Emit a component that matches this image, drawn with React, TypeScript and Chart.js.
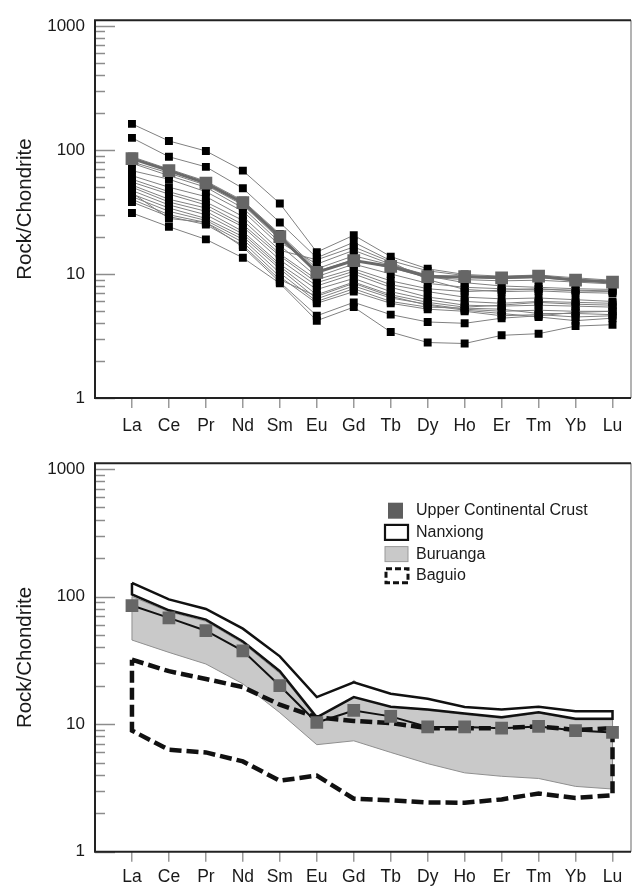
import React, { useEffect, useRef } from 'react';
import { Chart, registerables } from 'chart.js';

Chart.register(...registerables);

const FONT = "'Liberation Sans', Arial, Helvetica, sans-serif";

const elements = ['La', 'Ce', 'Pr', 'Nd', 'Sm', 'Eu', 'Gd', 'Tb', 'Dy', 'Ho', 'Er', 'Tm', 'Yb', 'Lu'];
const yTickValues = [1, 10, 100, 1000];
const yTitle = 'Rock/Chondrite';

// Upper continental crust (chondrite normalised)
const ucc = [85, 68, 54, 37.5, 20, 10.3, 12.8, 11.5, 9.5, 9.5, 9.3, 9.6, 8.9, 8.6];

// Nanxiong samples (top panel)
const sample01 = [162, 118, 98, 68, 37, 15.0, 20.5, 13.8, 11.0, 9.9, 9.6, 9.8, 9.3, 8.9];
const sample02 = [125, 88, 73, 49, 26, 13.5, 18.0, 12.8, 10.6, 9.7, 9.4, 9.5, 9.1, 8.7];
const sample03 = [88, 70, 56, 39, 21, 11.0, 14.0, 11.8, 9.8, 9.4, 9.2, 9.3, 8.9, 8.5];
const sample04 = [80, 65, 52, 36, 19, 10.5, 13.0, 11.2, 9.4, 9.0, 8.8, 8.9, 8.6, 8.3];
const sample05 = [78, 62, 50, 34, 18, 12.0, 15.5, 12.0, 9.6, 8.5, 8.0, 7.8, 7.6, 7.5];
const sample06 = [68, 58, 46, 32, 17, 9.5, 12.0, 10.0, 8.4, 7.8, 7.6, 7.5, 7.4, 7.3];
const sample07 = [62, 50, 42, 29, 15.5, 13.0, 16.5, 12.5, 9.0, 7.5, 7.2, 7.3, 7.1, 7.0];
const sample08 = [58, 46, 38, 27, 14.5, 9.0, 11.0, 8.8, 7.6, 7.2, 7.4, 7.6, 7.3, 7.2];
const sample09 = [55, 44, 36, 25, 14, 8.5, 10.5, 8.2, 7.2, 6.5, 6.3, 6.4, 6.2, 6.0];
const sample10 = [52, 40, 34, 24, 13, 8.0, 10.0, 7.8, 6.5, 6.0, 5.8, 6.0, 5.9, 5.8];
const sample11 = [50, 38, 32, 22, 12, 7.5, 9.2, 7.2, 6.2, 5.6, 5.5, 5.6, 5.5, 5.4];
const sample12 = [47, 36, 30, 21, 11.5, 6.8, 8.6, 6.8, 5.9, 5.4, 5.6, 5.9, 5.7, 5.6];
const sample13 = [44, 34, 28, 20, 11, 6.3, 8.0, 6.4, 5.7, 5.2, 5.0, 5.1, 5.0, 5.0];
const sample14 = [42, 32, 27, 19, 10.2, 6.0, 7.6, 6.0, 5.4, 5.3, 5.2, 4.8, 4.8, 4.7];
const sample15 = [40, 30, 26, 18, 9.5, 5.8, 7.2, 5.8, 5.2, 5.0, 4.6, 4.7, 4.5, 4.6];
const sample16 = [38, 29, 25, 17, 9.0, 6.6, 8.4, 6.6, 5.6, 5.1, 4.8, 4.5, 4.2, 4.4];
const sample17 = [45, 28, 26, 16.5, 8.6, 4.6, 5.9, 4.7, 4.1, 4.0, 4.4, 4.6, 4.9, 5.0];
const sample18 = [31, 24, 19, 13.5, 8.4, 4.2, 5.4, 3.4, 2.8, 2.75, 3.2, 3.3, 3.8, 3.9];

const samples = [
  sample01, sample02, sample03, sample04, sample05, sample06, sample07, sample08, sample09,
  sample10, sample11, sample12, sample13, sample14, sample15, sample16, sample17, sample18,
];

// Field envelopes (bottom panel)
const nanxiongUpper = [128, 95, 80, 56, 34, 16.3, 21.3, 17.3, 15.8, 13.6, 13.0, 13.7, 12.6, 12.6];
const nanxiongLower = [104, 78, 66, 44.5, 26, 11.3, 16.3, 13.7, 13.0, 12.1, 11.3, 12.4, 11.0, 11.0];
const buruangaUpper = [100, 76, 64, 43, 25, 11.0, 22, 13.6, 12.8, 11.9, 11.1, 12.2, 10.8, 10.8];
const buruangaLower = [45.6, 36.5, 29.6, 20.7, 12.3, 6.9, 7.4, 6.0, 4.9, 4.15, 3.9, 3.75, 3.25, 3.1];
const baguioUpper = [32, 26, 22.6, 19.5, 14.2, 11.3, 10.6, 10.2, 9.3, 9.3, 9.3, 9.6, 9.0, 9.3];
const baguioLower = [8.9, 6.3, 6.0, 5.1, 3.6, 3.95, 2.6, 2.53, 2.43, 2.42, 2.57, 2.86, 2.64, 2.77];

const legendItems = ['Upper Continental Crust', 'Nanxiong', 'Buruanga', 'Baguio'];

const toPoints = (vals: number[]) => vals.map((v, i) => ({ x: i, y: v }));
const envelope = (upper: number[], lower: number[]) => {
  const pts = toPoints(upper).concat(toPoints(lower).reverse());
  pts.push({ x: 0, y: upper[0] });
  return pts;
};

const framePlugin = {
  id: 'frameTicks',
  afterDraw(chart: any) {
    const { ctx, chartArea } = chart;
    const y = chart.scales.y;
    const { left, right, top, bottom } = chartArea;
    ctx.save();
    // inward y ticks
    ctx.strokeStyle = '#8c8c8c';
    ctx.lineWidth = 1.5;
    for (const d of [1, 10, 100, 1000]) {
      for (let m = 1; m <= 9; m++) {
        const v = d * m;
        if (v > y.max || v < y.min) continue;
        const py = Math.round(y.getPixelForValue(v)) + 0.5;
        const len = m === 1 ? 20 : 10;
        ctx.beginPath();
        ctx.moveTo(left, py);
        ctx.lineTo(left + len, py);
        ctx.stroke();
      }
    }
    // frame
    ctx.strokeStyle = '#9a9a9a';
    ctx.lineWidth = 1.5;
    ctx.beginPath();
    ctx.moveTo(right, top);
    ctx.lineTo(right, bottom);
    ctx.stroke();
    ctx.strokeStyle = '#222';
    ctx.lineWidth = 2;
    ctx.beginPath();
    ctx.moveTo(right, top);
    ctx.lineTo(left, top);
    ctx.lineTo(left, bottom);
    ctx.lineTo(right, bottom);
    ctx.stroke();
    ctx.restore();
  },
};

const legendPlugin = {
  id: 'envLegend',
  afterDraw(chart: any) {
    const { ctx, chartArea } = chart;
    const bx = chartArea.left + 290;
    const tx = chartArea.left + 321;
    const y0 = chartArea.top + 47.5;
    const dy = 21.7;
    ctx.save();
    legendItems.forEach((label, k) => {
      const cy = y0 + k * dy;
      ctx.setLineDash([]);
      if (k === 0) {
        ctx.fillStyle = '#5e5e5e';
        ctx.fillRect(bx + 3, cy - 8, 15, 16);
      } else if (k === 1) {
        ctx.fillStyle = '#fff';
        ctx.fillRect(bx, cy - 7.5, 23, 15);
        ctx.strokeStyle = '#111';
        ctx.lineWidth = 2.2;
        ctx.strokeRect(bx, cy - 7.5, 23, 15);
      } else if (k === 2) {
        ctx.fillStyle = '#c9c9c9';
        ctx.fillRect(bx, cy - 7.5, 23, 15);
        ctx.strokeStyle = '#999';
        ctx.lineWidth = 1;
        ctx.strokeRect(bx, cy - 7.5, 23, 15);
      } else {
        ctx.strokeStyle = '#111';
        ctx.lineWidth = 3;
        ctx.setLineDash([6, 3]);
        ctx.strokeRect(bx + 1, cy - 7, 22, 14);
        ctx.setLineDash([]);
      }
      ctx.fillStyle = '#1a1a1a';
      ctx.font = `16px ${FONT}`;
      ctx.textBaseline = 'middle';
      ctx.textAlign = 'left';
      ctx.fillText(label, tx, cy);
    });
    ctx.restore();
  },
};

function makeScales(xAxisHeight: number, xPad: number) {
  return {
    x: {
      type: 'linear',
      min: -1,
      max: 13.5,
      afterBuildTicks: (s: any) => {
        s.ticks = elements.map((_, i) => ({ value: i }));
      },
      afterFit: (s: any) => {
        s.height = xAxisHeight;
      },
      ticks: {
        callback: (v: any) => elements[v] ?? '',
        font: { size: 17.5, family: FONT },
        color: '#1a1a1a',
        padding: xPad,
        autoSkip: false,
        maxRotation: 0,
      },
      grid: { drawOnChartArea: false, drawTicks: true, tickLength: 10, color: '#9a9a9a', lineWidth: 1.5 },
      border: { display: false },
    },
    y: {
      type: 'logarithmic',
      min: 1,
      max: 1110,
      afterBuildTicks: (s: any) => {
        s.ticks = yTickValues.map((v) => ({ value: v }));
      },
      afterFit: (s: any) => {
        s.width = 95;
      },
      ticks: {
        callback: (v: any) => String(v),
        font: { size: 17, family: FONT },
        color: '#1a1a1a',
        padding: 10,
      },
      grid: { drawOnChartArea: false, drawTicks: false },
      border: { display: false },
      title: {
        display: true,
        text: yTitle,
        font: { size: 20.5, family: FONT },
        color: '#1a1a1a',
        padding: { top: 13, bottom: 0 },
      },
    },
  };
}

function TopChart() {
  const ref = useRef<HTMLCanvasElement>(null);
  useEffect(() => {
    const datasets: any[] = samples.map((s) => ({
      data: toPoints(s),
      borderColor: '#808080',
      borderWidth: 1,
      pointStyle: 'rect',
      pointRadius: 5.6,
      pointBackgroundColor: '#000',
      pointBorderWidth: 0,
      order: 2,
    }));
    datasets.push({
      data: toPoints(ucc),
      borderColor: '#6a6a6a',
      borderWidth: 3,
      pointStyle: 'rect',
      pointRadius: 9,
      pointBackgroundColor: '#666',
      pointBorderWidth: 0,
      order: 1,
    });
    const chart = new Chart(ref.current!, {
      type: 'line',
      data: { datasets },
      options: {
        animation: false,
        responsive: false,
        layout: { padding: { top: 9, right: 5, left: 0, bottom: 0 } },
        plugins: { legend: { display: false }, tooltip: { enabled: false } },
        scales: makeScales(45, 8) as any,
      },
      plugins: [framePlugin],
    });
    return () => chart.destroy();
  }, []);
  return <canvas ref={ref} width={640} height={443} style={{ display: 'block' }} />;
}

function BottomChart() {
  const ref = useRef<HTMLCanvasElement>(null);
  useEffect(() => {
    const datasets: any[] = [
      {
        data: envelope(buruangaUpper, buruangaLower),
        borderColor: '#8f8f8f',
        borderWidth: 1,
        backgroundColor: '#c9c9c9',
        fill: 'shape',
        pointRadius: 0,
        order: 5,
      },
      {
        data: envelope(nanxiongUpper, nanxiongLower),
        borderColor: '#111',
        borderWidth: 2.5,
        backgroundColor: '#ffffff',
        fill: 'shape',
        pointRadius: 0,
        order: 4,
      },
      {
        data: envelope(baguioUpper, baguioLower),
        borderColor: '#111',
        borderWidth: 4.5,
        borderDash: [12, 5],
        fill: false,
        pointRadius: 0,
        order: 3,
      },
      {
        data: toPoints(ucc),
        borderColor: '#111',
        borderWidth: 2,
        pointStyle: 'rect',
        pointRadius: 9,
        pointBackgroundColor: '#666',
        pointBorderWidth: 0,
        fill: false,
        order: 1,
      },
    ];
    const chart = new Chart(ref.current!, {
      type: 'line',
      data: { datasets },
      options: {
        animation: false,
        responsive: false,
        layout: { padding: { top: 18.7, right: 5, left: 0, bottom: 0 } },
        plugins: { legend: { display: false }, tooltip: { enabled: false } },
        scales: makeScales(35.3, 5) as any,
      },
      plugins: [framePlugin, legendPlugin],
    });
    return () => chart.destroy();
  }, []);
  return <canvas ref={ref} width={640} height={444} style={{ display: 'block' }} />;
}

export default function App() {
  return (
    <div style={{ position: 'absolute', left: 0, top: 0, width: 640, height: 887, background: '#fff' }}>
      <TopChart />
      <BottomChart />
    </div>
  );
}
